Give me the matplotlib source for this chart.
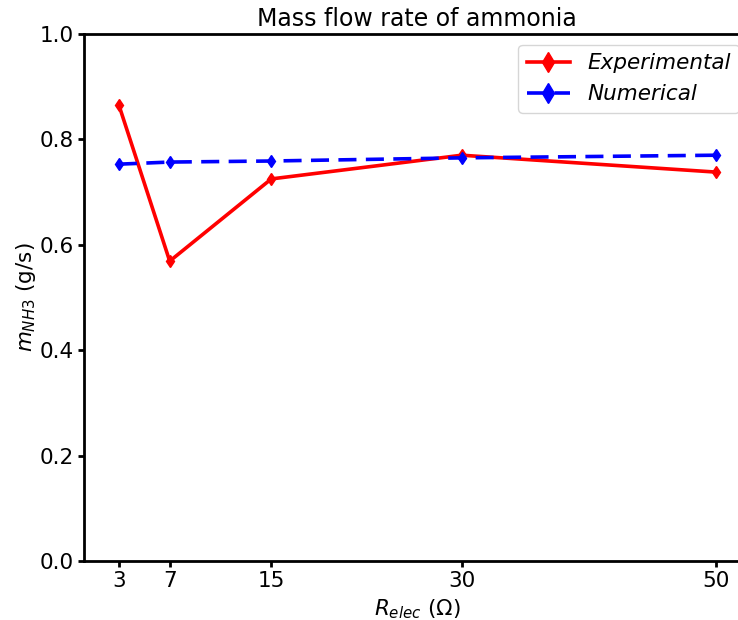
import matplotlib
matplotlib.use("Agg")
import matplotlib.pyplot as plt

r_elec = [3, 7, 15, 30, 50]
experimental = [0.865, 0.569, 0.725, 0.770, 0.738]
numerical = [0.753, 0.757, 0.759, 0.765, 0.770]
xticks = [3, 7, 15, 30, 50]

fig = plt.figure(figsize=(7.38, 6.2), dpi=100)
ax = fig.add_axes([84/738, 1-561/620, (750-84)/738, (561-34)/620])
ax.plot(r_elec, experimental, color='red', linestyle='-', marker='d', linewidth=2.6, markersize=6, label='Experimental')
ax.plot(r_elec, numerical, color='blue', linestyle='--', dashes=(5, 2.6), marker='d', linewidth=2.6, markersize=6, label='Numerical')
ax.set_xlim(0.25, 52.7)
ax.set_ylim(0, 1.0)
ax.set_xticks(xticks)
ax.set_xticklabels([str(v) for v in xticks])
ax.set_yticks([0, 0.2, 0.4, 0.6, 0.8, 1.0])
ax.tick_params(labelsize=15.5, width=2, length=4)
for s in ax.spines.values():
    s.set_linewidth(2)
ax.set_title('Mass flow rate of ammonia', fontsize=17)
ax.set_xlabel(r'$R_{elec}$ ($\Omega$)', fontsize=15.5)
ax.set_ylabel(r'$m_{NH3}$ (g/s)', fontsize=15.5, labelpad=1)
leg = ax.legend(loc='upper right', bbox_to_anchor=(1.0, 1.0), prop={'size': 15.5, 'style': 'italic'}, markerscale=1.7)
fig.savefig('out.png', dpi=100)
